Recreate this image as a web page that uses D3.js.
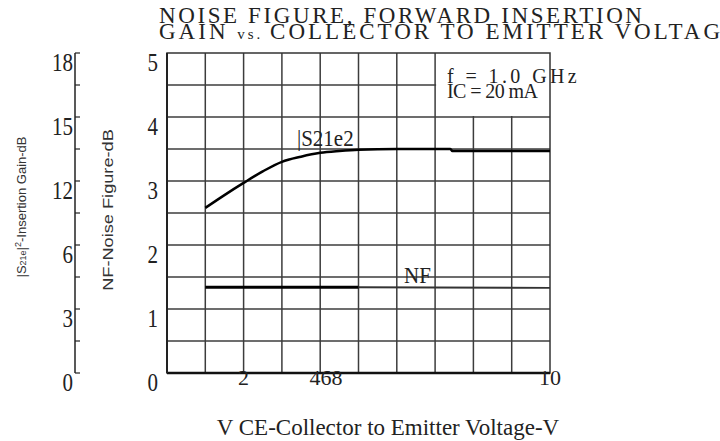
<!DOCTYPE html>
<html>
<head>
<meta charset="utf-8">
<script src="https://cdn.jsdelivr.net/npm/d3@7"></script>
<style>
  body { margin: 0; background: #fff; }
  svg { display: block; }
  .serif { font-family: "Liberation Serif", "Times New Roman", serif; fill: #222; }
  .sans { font-family: "Liberation Sans", Arial, sans-serif; fill: #333; }
</style>
</head>
<body>
<svg width="720" height="441"></svg>
<script>
// |S21e|^2 gain curve, dB vs VCE
const vce = [1, 1.5, 2, 2.5, 3, 3.5, 4, 4.5, 5, 6, 7.4, 7.45, 10];
const gainDb = [10.74, 11.34, 11.91, 12.45, 12.9, 13.14, 13.32, 13.41, 13.47, 13.5, 13.5, 13.41, 13.41];
// noise figure, dB
const nfVce = [1, 5, 10];
const nfDb = [1.34, 1.34, 1.33];
// tick labels
const nfTicks = [0, 1, 2, 3, 4, 5];
const gainTickLabels = ["0", "3", "6", "12", "15", "18"];
const xTickVals = [2, 4.15, 10];
const xTickLabels = ["2", "468", "10"];

const svg = d3.select('svg');

const x = d3.scaleLinear().domain([0, 10]).range([167, 550]);
const y = d3.scaleLinear().domain([0, 5]).range([373, 53]);
// gain axis slots share the NF grid; top of it reads 12, 15, 18 dB
const yGain = d3.scaleLinear().domain([12, 18]).range([y(3), y(5)]);

// text placed with a little vertical stretch, like the scanned original
function label(px, py, size, sy) {
  return svg.append('text').attr('class', 'serif')
    .attr('transform', `translate(${px},${py}) scale(1,${sy || 1})`)
    .attr('font-size', size);
}

// grid
svg.append('g')
  .selectAll('line')
  .data(d3.range(1, 10))
  .enter().append('line')
  .attr('x1', d => x(d)).attr('x2', d => x(d))
  .attr('y1', y(0)).attr('y2', y(5))
  .attr('stroke', '#3c3c3c').attr('stroke-width', 1.5);

svg.append('g')
  .selectAll('line')
  .data(d3.range(1, 10).map(d => d / 2))
  .enter().append('line')
  .attr('x1', x(0)).attr('x2', x(10))
  .attr('y1', d => y(d)).attr('y2', d => y(d))
  .attr('stroke', '#3c3c3c').attr('stroke-width', 1.5);

// blank box behind conditions text
svg.append('rect')
  .attr('x', x(7) + 1).attr('y', y(5))
  .attr('width', x(10) - x(7) - 1).attr('height', y(4) - y(5) - 1)
  .attr('fill', '#fff');

// frame
svg.append('rect')
  .attr('x', x(0)).attr('y', y(5))
  .attr('width', x(10) - x(0)).attr('height', y(0) - y(5))
  .attr('fill', 'none').attr('stroke', '#333').attr('stroke-width', 1.5);
svg.append('line')
  .attr('x1', x(0)).attr('x2', x(10)).attr('y1', y(0)).attr('y2', y(0))
  .attr('stroke', '#111').attr('stroke-width', 2.5);
svg.append('line')
  .attr('x1', x(0)).attr('x2', x(0)).attr('y1', y(0)).attr('y2', y(5))
  .attr('stroke', '#222').attr('stroke-width', 2);

// inner NF axis labels
nfTicks.forEach(d => {
  label(158, y(d) + 18, 21, 1.15).attr('text-anchor', 'end').text(d);
});

// outer gain axis
const outer = svg.append('g');
outer.append('line')
  .attr('x1', 75).attr('x2', 75).attr('y1', y(0)).attr('y2', y(5))
  .attr('stroke', '#222').attr('stroke-width', 1.5);
outer.selectAll('.tk')
  .data(d3.range(0, 11).map(d => d / 2))
  .enter().append('line')
  .attr('x1', 75).attr('x2', 80)
  .attr('y1', d => y(d)).attr('y2', d => y(d))
  .attr('stroke', '#222').attr('stroke-width', 1.2);
gainTickLabels.forEach((d, i) => {
  label(73, y(i) + 18, 21, 1.15).attr('text-anchor', 'end').text(d);
});

// x labels
xTickVals.forEach((d, i) => {
  label(x(d), 385, 22).attr('text-anchor', 'middle').text(xTickLabels[i]);
});

// curves
const line = d3.line().curve(d3.curveMonotoneX);
svg.append('path')
  .attr('d', line(vce.map((v, i) => [x(v), yGain(gainDb[i])])))
  .attr('fill', 'none').attr('stroke', '#000').attr('stroke-width', 2.5);

svg.append('line')
  .attr('x1', x(nfVce[0])).attr('x2', x(nfVce[1]))
  .attr('y1', y(nfDb[0])).attr('y2', y(nfDb[1]))
  .attr('stroke', '#000').attr('stroke-width', 3);
svg.append('line')
  .attr('x1', x(nfVce[1])).attr('x2', x(nfVce[2]))
  .attr('y1', y(nfDb[1])).attr('y2', y(nfDb[2]))
  .attr('stroke', '#333').attr('stroke-width', 1.8);

// curve labels
label(297, 146, 21, 1.1).text('|S21e2');
label(404, 283, 21, 1.1).text('NF');

// conditions
label(447, 83, 20).attr('letter-spacing', 3.4).text('f = 1.0 GHz');
label(447, 98, 20).attr('letter-spacing', -0.6).text('IC = 20 mA');

// title
label(159, 23, 23).attr('letter-spacing', 2.6)
  .text('NOISE FIGURE, FORWARD INSERTION');
const t2 = label(159, 39, 23).attr('letter-spacing', 3);
t2.append('tspan').text('GAIN ');
t2.append('tspan').attr('font-size', 15).text('vs. ');
t2.append('tspan').text('COLLECTOR TO EMITTER VOLTAGE');

// axis titles
label(388, 435, 23).attr('text-anchor', 'middle')
  .text('V CE-Collector to Emitter Voltage-V');

const g1 = svg.append('text').attr('class', 'sans')
  .attr('transform', 'translate(26,207) rotate(-90)')
  .attr('text-anchor', 'middle').attr('font-size', 13);
g1.append('tspan').text('|S');
g1.append('tspan').attr('font-size', 9).text('21e');
g1.append('tspan').text('|');
g1.append('tspan').attr('font-size', 9).attr('dy', -5).text('2');
g1.append('tspan').attr('dy', 5).text('-Insertion Gain-dB');

svg.append('text').attr('class', 'sans')
  .attr('transform', 'translate(113,210) rotate(-90) scale(1.3,1)')
  .attr('text-anchor', 'middle').attr('font-size', 14)
  .text('NF-Noise Figure-dB');
</script>
</body>
</html>
